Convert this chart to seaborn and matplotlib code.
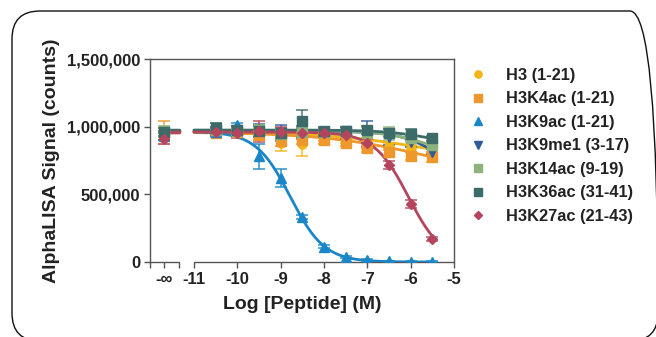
import numpy as np
import pandas as pd
import matplotlib
matplotlib.use("Agg")
import matplotlib.pyplot as plt
from matplotlib.lines import Line2D
from matplotlib.patches import FancyBboxPatch
import matplotlib.transforms as mtransforms
import seaborn as sns

# --- data (signal in counts) ---
peptides = ["H3 (1-21)", "H3K4ac (1-21)", "H3K9ac (1-21)", "H3K9me1 (3-17)",
            "H3K14ac (9-19)", "H3K36ac (31-41)", "H3K27ac (21-43)"]
log_conc = [-10.5, -10.0, -9.5, -9.0, -8.5, -8.0, -7.5, -7.0, -6.5, -6.0, -5.5]

h3_mean = [965e3, 975e3, 950e3, 880e3, 870e3, 925e3, 905e3, 865e3, 852e3, 840e3, 842e3]
h3_sd = [30e3, 30e3, 40e3, 60e3, 90e3, 30e3, 25e3, 30e3, 25e3, 25e3, 30e3]
h3k4ac_mean = [955e3, 960e3, 935e3, 895e3, 905e3, 900e3, 880e3, 840e3, 815e3, 783e3, 775e3]
h3k4ac_sd = [25e3, 25e3, 30e3, 40e3, 30e3, 25e3, 25e3, 25e3, 30e3, 30e3, 35e3]
h3k9ac_mean = [960e3, 1010e3, 780e3, 620e3, 335e3, 113e3, 40e3, 15e3, 5e3, 2e3, 2e3]
h3k9ac_sd = [30e3, 20e3, 95e3, 65e3, 15e3, 10e3, 8e3, 5e3, 3e3, 2e3, 2e3]
h3k9me1_mean = [965e3, 975e3, 970e3, 955e3, 965e3, 960e3, 965e3, 960e3, 926e3, 890e3, 815e3]
h3k9me1_sd = [30e3, 30e3, 50e3, 60e3, 40e3, 30e3, 30e3, 80e3, 60e3, 40e3, 20e3]
h3k14ac_mean = [975e3, 965e3, 975e3, 945e3, 960e3, 960e3, 960e3, 955e3, 950e3, 919e3, 868e3]
h3k14ac_sd = [50e3, 30e3, 40e3, 30e3, 30e3, 30e3, 30e3, 40e3, 50e3, 30e3, 30e3]
h3k36ac_mean = [990e3, 975e3, 965e3, 950e3, 1045e3, 970e3, 965e3, 975e3, 955e3, 943e3, 914e3]
h3k36ac_sd = [40e3, 30e3, 40e3, 40e3, 75e3, 30e3, 30e3, 30e3, 30e3, 40e3, 20e3]
h3k27ac_mean = [960e3, 955e3, 965e3, 960e3, 950e3, 955e3, 938e3, 877e3, 717e3, 426e3, 170e3]
h3k27ac_sd = [30e3, 40e3, 80e3, 40e3, 40e3, 30e3, 30e3, 30e3, 30e3, 30e3, 15e3]

# no-peptide control (plotted at -inf)
ctrl_mean = [960e3, 955e3, 930e3, 935e3, 965e3, 960e3, 910e3]
ctrl_sd = [30e3, 85e3, 30e3, 30e3, 40e3, 30e3, 40e3]

# four-parameter logistic fit: top, bottom, logIC50, hill slope
fit_top = [965e3, 960e3, 965e3, 965e3, 970e3, 975e3, 960e3]
fit_bottom = [700e3, 590e3, 0, 650e3, 750e3, 850e3, 0]
fit_logic50 = [-5.5, -5.5, -8.78, -5.4, -5.5, -5.5, -6.05]
fit_hill = [0.35, 0.35, 1.1, 1.0, 0.8, 0.8, 1.1]

colors = ["#F2B417", "#EE972C", "#1A86C8", "#2F5C98", "#8DB27B", "#3C6B6A", "#B5455F"]
markers = ["o", "s", "^", "v", "s", "s", "D"]
marker_sizes = [6.5, 6.5, 7, 7, 6.5, 7, 5.5]

means = [h3_mean, h3k4ac_mean, h3k9ac_mean, h3k9me1_mean, h3k14ac_mean, h3k36ac_mean, h3k27ac_mean]
sds = [h3_sd, h3k4ac_sd, h3k9ac_sd, h3k9me1_sd, h3k14ac_sd, h3k36ac_sd, h3k27ac_sd]

# positions on the broken x axis
x_left = -12.015
x_inf = -11.69
x_break = -11.35

sns.set_style("ticks")
plt.rcParams['font.family'] = ['Liberation Sans', 'DejaVu Sans']
plt.rcParams['font.weight'] = 'bold'
text_color = '#222222'
axis_color = '#555555'

fig = plt.figure(figsize=(6.56, 3.37), dpi=100)
ax = fig.add_axes([150 / 656, 75 / 337, 304 / 656, 203 / 337])

pal = dict(zip(peptides, colors))

# fitted curves
xs = np.linspace(-11, -5.5, 200)
curves = []
for name, top, bot, ic, h in zip(peptides, fit_top, fit_bottom, fit_logic50, fit_hill):
    ys = bot + (top - bot) / (1 + 10 ** ((xs - ic) * h))
    curves.append(pd.DataFrame({'x': xs, 'y': ys, 'peptide': name}))
curve_df = pd.concat(curves, ignore_index=True)
sns.lineplot(data=curve_df, x='x', y='y', hue='peptide', palette=pal, linewidth=2,
             legend=False, ax=ax, zorder=3)

# plateau over the control segment
for name, top in zip(peptides, fit_top):
    ax.plot([x_inf - 0.1, x_break], [top, top], color=pal[name], lw=2.5, zorder=3)

# points with error bars
for i, name in enumerate(peptides):
    xx = [x_inf] + log_conc
    yy = [ctrl_mean[i]] + means[i]
    ee = [ctrl_sd[i]] + sds[i]
    ax.errorbar(xx, yy, yerr=ee, fmt='none', ecolor=colors[i], elinewidth=1.1,
                capsize=4.5, capthick=1.1, zorder=4, alpha=0.9)
    ax.plot(xx, yy, ls='none', marker=markers[i], ms=marker_sizes[i],
            color=colors[i], mec=colors[i], zorder=5)

# axes styling
ax.set_xlim(x_left, -5)
ax.set_ylim(0, 1.5e6)
ax.set_yticks([0, 500000, 1000000, 1500000])
ax.set_yticklabels(['0', '500,000', '1,000,000', '1,500,000'])
ticks = [x_left, x_inf, x_break] + list(range(-11, -4))
labels = ['', '-∞', ''] + [str(t) for t in range(-11, -4)]
ax.set_xticks(ticks)
ax.set_xticklabels(labels)
ax.tick_params(axis='both', direction='out', length=4, width=1, color=axis_color,
               labelsize=12, labelcolor=text_color, pad=3)
for s in ['left', 'top', 'right']:
    ax.spines[s].set_visible(True)
    ax.spines[s].set_color(axis_color)
    ax.spines[s].set_linewidth(1)
ax.spines['bottom'].set_visible(False)
trans = mtransforms.blended_transform_factory(ax.transData, ax.transAxes)
ax.plot([x_left, x_break], [0, 0], color=axis_color, lw=1, transform=trans, clip_on=False)
ax.plot([-11, -5], [0, 0], color=axis_color, lw=1, transform=trans, clip_on=False)

ax.set_xlabel('Log [Peptide] (M)', fontsize=14, fontweight='bold', color=text_color, labelpad=7)
ax.set_ylabel('AlphaLISA Signal (counts)', fontsize=14, fontweight='bold', color=text_color, labelpad=5)

# legend (markers only)
handles = [Line2D([], [], ls='none', marker=m, ms=ms * 0.8, color=c, mec=c)
           for m, ms, c in zip(markers, marker_sizes, colors)]
fig.legend(handles, peptides, loc='upper left', bbox_to_anchor=(453 / 656, 1 - 53 / 337),
           frameon=False, labelspacing=0.52, handletextpad=1.15,
           handlelength=1.2, labelcolor=text_color, prop={'weight': 'bold', 'size': 11.8})

# rounded frame around the figure
frame = FancyBboxPatch((0.12, -0.04), 6.46, 3.30, boxstyle="round,pad=0,rounding_size=0.28",
                       transform=fig.dpi_scale_trans, fill=False, edgecolor='#111111', lw=1)
fig.add_artist(frame)

fig.savefig('out.png', dpi=100)
